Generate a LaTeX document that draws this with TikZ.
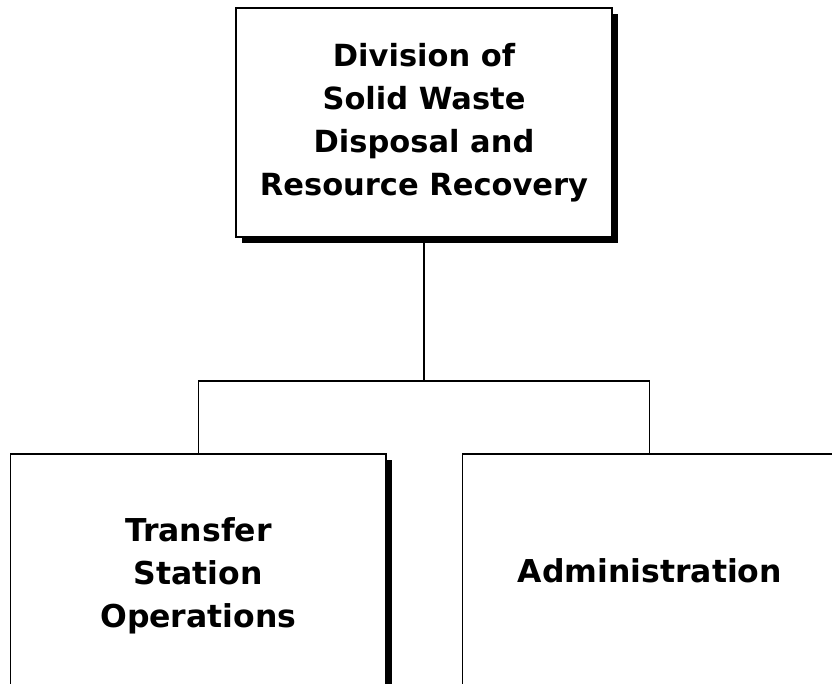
\documentclass[tikz,border=0pt]{standalone}
\usepackage{fontspec}
\setmainfont{DejaVu Sans}
\usetikzlibrary{shadows}
\begin{document}
\begin{tikzpicture}[x=1pt,y=-1pt,
  orgbox/.style={draw=black, line width=1.5pt, fill=white, rectangle, inner sep=0pt,
    align=center, font=\bfseries\fontsize{30.5}{43}\selectfont,
    drop shadow={shadow xshift=5.5pt, shadow yshift=-5.5pt, opacity=1, fill=black}},
  lowbox/.style={orgbox, font=\bfseries\fontsize{31.5}{43}\selectfont},
  link/.style={draw=black, line width=1.3pt}]
\useasboundingbox (0,0) rectangle (832,683);
\clip (0,0) rectangle (832,683);
\fill[white] (0,0) rectangle (832,683);
\node[orgbox, minimum width=376pt, minimum height=229pt] (top) at (424,122.5)
  {Division of\\Solid Waste\\Disposal and\\Resource Recovery};
\node[lowbox, minimum width=375.5pt, minimum height=244pt] (left) at (198.3,576)
  {Transfer\\Station\\Operations};
\node[lowbox, minimum width=374.5pt, minimum height=234pt] (right) at (649.8,571)
  {Administration};
\coordinate (j) at (424,381);
\draw[link] (top.south) -- (j);
\draw[link] (left.north) |- (j) -| (right.north);
\end{tikzpicture}
\end{document}
